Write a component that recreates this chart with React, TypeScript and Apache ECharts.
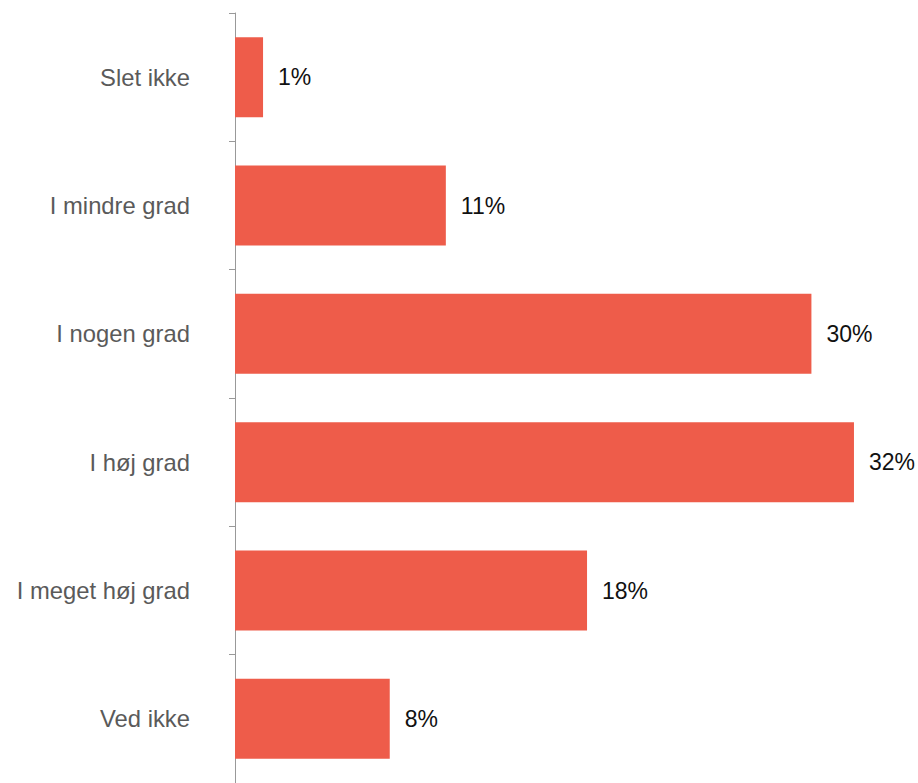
import React, { useEffect, useRef } from "react";
import * as echarts from "echarts";

const categories = ["Slet ikke", "I mindre grad", "I nogen grad", "I høj grad", "I meget høj grad", "Ved ikke"];
const values = [1.45, 10.9, 29.8, 32.0, 18.2, 8.0];
const valueLabels = ["1%", "11%", "30%", "32%", "18%", "8%"];

export default function App() {
  const ref = useRef<HTMLDivElement>(null);
  useEffect(() => {
    if (!ref.current) return;
    const chart = echarts.init(ref.current, null, { renderer: "svg" });
    chart.setOption({
      animation: false,
      backgroundColor: "#ffffff",
      grid: { left: 235, top: 13, right: 6, bottom: -8, containLabel: false },
      xAxis: {
        type: "value",
        min: 0,
        max: 35,
        show: false,
      },
      yAxis: {
        type: "category",
        inverse: true,
        data: categories,
        axisLine: { show: true, lineStyle: { color: "#999999", width: 1 } },
        axisTick: { show: true, length: 6, lineStyle: { color: "#999999" } },
        axisLabel: {
          margin: 45,
          color: "#5a5a5a",
          fontSize: 23.8,
          fontFamily: "Liberation Sans, Arial, sans-serif",
        },
        splitLine: { show: false },
      },
      series: [
        {
          type: "bar",
          data: values,
          barWidth: 80,
          itemStyle: { color: "#EE5C4A" },
          label: {
            show: true,
            position: "right",
            distance: 15,
            color: "#111111",
            fontSize: 23,
            fontFamily: "Liberation Sans, Arial, sans-serif",
            formatter: (p: any) => valueLabels[p.dataIndex],
          },
        },
      ],
    });
    return () => chart.dispose();
  }, []);
  return (
    <div
      ref={ref}
      style={{ position: "fixed", left: 0, top: 0, width: 918, height: 783 }}
    />
  );
}
